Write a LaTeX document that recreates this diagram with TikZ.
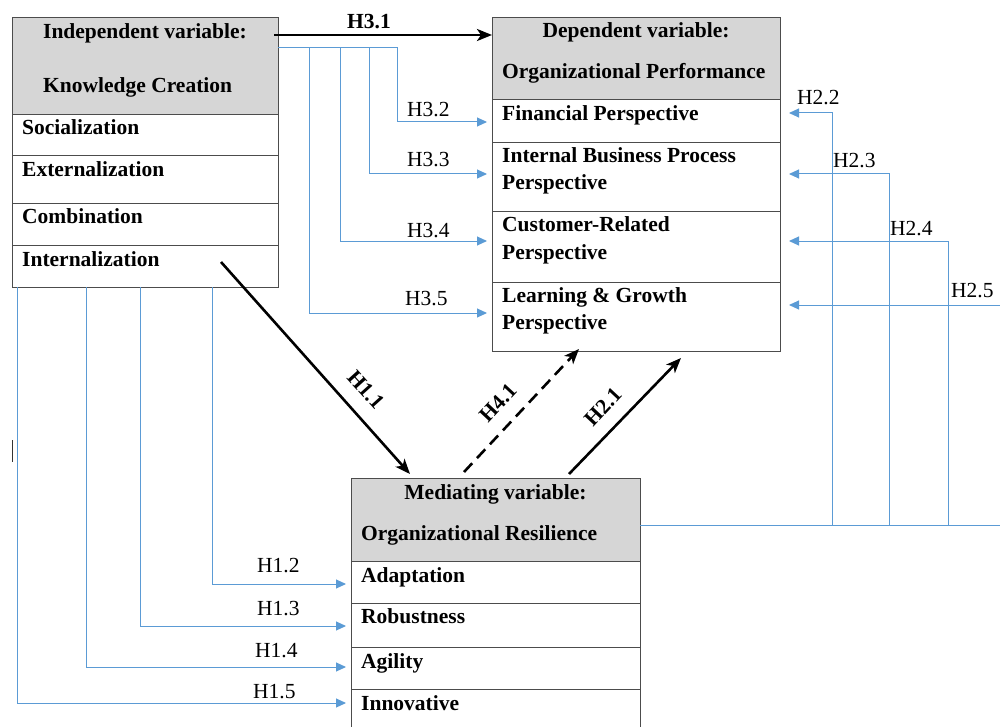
\documentclass[tikz,border=0pt]{standalone}
\usepackage{fontspec}
\setmainfont{Liberation Serif}
\usetikzlibrary{arrows.meta,calc}
\definecolor{linkblue}{HTML}{5B9BD5}
\definecolor{hdrgray}{HTML}{D6D6D6}
\begin{document}
\begin{tikzpicture}[x=1pt,y=-1pt,
  cell/.style={draw=black!70, line width=0.9pt, rectangle, inner sep=0pt, outer sep=0pt},
  hdrcell/.style={cell, fill=hdrgray},
  btxt/.style={font=\fontsize{21.5}{26}\selectfont\bfseries, inner sep=0pt, anchor=base west},
  ctxt/.style={btxt, anchor=base},
  hlabel/.style={font=\fontsize{21.5}{26}\selectfont, inner sep=0pt, anchor=base west},
  rlabel/.style={font=\fontsize{21.5}{26}\selectfont\bfseries, inner sep=0pt},
  bluelink/.style={draw=linkblue, line width=1pt, -{Triangle[length=10pt,width=9pt]}},
  boldlink/.style={draw=black, line width=2.6pt, -{Stealth[length=15pt,width=12pt,inset=4pt]}},
]
\useasboundingbox (0,0) rectangle (1000,727);
\clip (0,0) rectangle (1000,727);

% ---------- Independent variable: Knowledge Creation ----------
\node[hdrcell, minimum width=266pt, minimum height=97pt] (kch) at (145,65.5) {};
\node[cell, minimum width=266pt, minimum height=41.7pt] (soc) at (145,134.85) {};
\node[cell, minimum width=266pt, minimum height=47.3pt] (ext) at (145,179.35) {};
\node[cell, minimum width=266pt, minimum height=42pt] (com) at (145,224) {};
\node[cell, minimum width=266pt, minimum height=42pt] (int) at (145,266) {};
\node[ctxt] (kct1) at (145,39) {Independent variable:};
\node[btxt] (kct2) at (43,93) {Knowledge Creation};
\node[btxt] (soct) at (22,135) {Socialization};
\node[btxt] (extt) at (22,177) {Externalization};
\node[btxt] (comt) at (22,224) {Combination};
\node[btxt] (intt) at (22,266) {Internalization};

% ---------- Dependent variable: Organizational Performance ----------
\node[hdrcell, minimum width=288pt, minimum height=82pt] (dph) at (636,58) {};
\node[cell, minimum width=288pt, minimum height=43pt] (fin) at (636,120.5) {};
\node[cell, minimum width=288pt, minimum height=69pt] (ibp) at (636,176.5) {};
\node[cell, minimum width=288pt, minimum height=71pt] (cust) at (636,246.5) {};
\node[cell, minimum width=288pt, minimum height=69pt] (learn) at (636,316.5) {};
\node[ctxt] (dpt1) at (636,38) {Dependent variable:};
\node[btxt] (dpt2) at (502,79) {Organizational Performance};
\node[btxt] (fint) at (502,121) {Financial Perspective};
\node[btxt] (ibpt1) at (502,163) {Internal Business Process};
\node[btxt] (ibpt2) at (502,190) {Perspective};
\node[btxt] (custt1) at (502,232) {Customer-Related};
\node[btxt] (custt2) at (502,259) {Perspective};
\node[btxt] (learnt1) at (502,302) {Learning \& Growth};
\node[btxt] (learnt2) at (502,329) {Perspective};

% ---------- Mediating variable: Organizational Resilience ----------
\node[hdrcell, minimum width=289pt, minimum height=83pt] (mrh) at (495.5,519.5) {};
\node[cell, minimum width=289pt, minimum height=42pt] (adap) at (495.5,582) {};
\node[cell, minimum width=289pt, minimum height=44pt] (rob) at (495.5,625) {};
\node[cell, minimum width=289pt, minimum height=42pt] (agil) at (495.5,668) {};
\node[cell, minimum width=289pt, minimum height=56pt] (innov) at (495.5,717) {};
\node[ctxt] (mrt1) at (495.5,499) {Mediating variable:};
\node[btxt] (mrt2) at (361,540) {Organizational Resilience};
\node[btxt] (adapt) at (361,582) {Adaptation};
\node[btxt] (robt) at (361,623) {Robustness};
\node[btxt] (agilt) at (361,668) {Agility};
\node[btxt] (innovt) at (361,710) {Innovative};

% ---------- H3: knowledge creation -> performance ----------
\draw[boldlink] ([xshift=-4pt]kch.east |- 0,35) -- (dph.west |- 0,35);
\node[rlabel, anchor=base west] (h31) at (347,29) {H3.1};
\draw[bluelink, shorten >=5pt] (kch.east |- 0,48) -| (397,122) -- (fin.west |- 0,122);
\draw[bluelink, shorten >=5pt] (kch.east |- 0,48) -| (369,174) -- (ibp.west |- 0,174);
\draw[bluelink, shorten >=5pt] (kch.east |- 0,48) -| (340,241) -- (cust.west |- 0,241);
\draw[bluelink, shorten >=5pt] (kch.east |- 0,48) -| (309,313) -- (learn.west |- 0,313);
\node[hlabel] (h32) at (407,117) {H3.2};
\node[hlabel] (h33) at (407,167) {H3.3};
\node[hlabel] (h34) at (407,237) {H3.4};
\node[hlabel] (h35) at (405,305) {H3.5};

% ---------- H1: knowledge creation -> resilience ----------
\draw[boldlink] ([xshift=76pt,yshift=4pt]int.center) -- ([xshift=-85.5pt,yshift=4pt]mrh.north);
\node[rlabel, rotate=-48] (h11) at (366,390) {H1.1};
\draw[bluelink, shorten >=5pt] (int.south -| 212,0) |- (adap.west |- 0,584);
\draw[bluelink, shorten >=5pt] (int.south -| 140,0) |- (rob.west |- 0,626);
\draw[bluelink, shorten >=5pt] (int.south -| 86,0) |- (agil.west |- 0,667);
\draw[bluelink, shorten >=5pt] (int.south -| 17,0) |- (innov.west |- 0,703);
\node[hlabel] (h12) at (257,572) {H1.2};
\node[hlabel] (h13) at (257,615) {H1.3};
\node[hlabel] (h14) at (255,657) {H1.4};
\node[hlabel] (h15) at (253,698) {H1.5};

% ---------- H4.1 and H2.1: resilience -> performance ----------
\draw[boldlink, dash pattern=on 12pt off 7pt] ([xshift=-31.5pt,yshift=6pt]mrh.north) -- ([xshift=-57pt,yshift=2pt]learn.south);
\node[rlabel, rotate=47] (h41) at (498,403) {H4.1};
\draw[boldlink] ([xshift=73.5pt,yshift=4pt]mrh.north) -- ([xshift=45pt,yshift=-7pt]learn.south);
\node[rlabel, rotate=47] (h21) at (603,407) {H2.1};

% ---------- H2: resilience -> performance perspectives ----------
\draw[bluelink, shorten >=9pt] (mrh.east |- 0,525) -| (832,113) -- (fin.east |- 0,113);
\draw[bluelink, shorten >=9pt] (mrh.east |- 0,525) -| (889,174) -- (ibp.east |- 0,174);
\draw[bluelink, shorten >=9pt] (mrh.east |- 0,525) -| (948,241) -- (cust.east |- 0,241);
\draw[bluelink, shorten >=9pt] (mrh.east |- 0,525) -| (1012,305) -- (learn.east |- 0,305);
\node[hlabel] (h22) at (797,105) {H2.2};
\node[hlabel] (h23) at (833,168) {H2.3};
\node[hlabel] (h24) at (890,236) {H2.4};
\node[hlabel] (h25) at (951,297) {H2.5};

% small vertical bar at the left margin
\draw[black!80, line width=1.3pt] (12.5,440) -- (12.5,462);
\end{tikzpicture}
\end{document}
